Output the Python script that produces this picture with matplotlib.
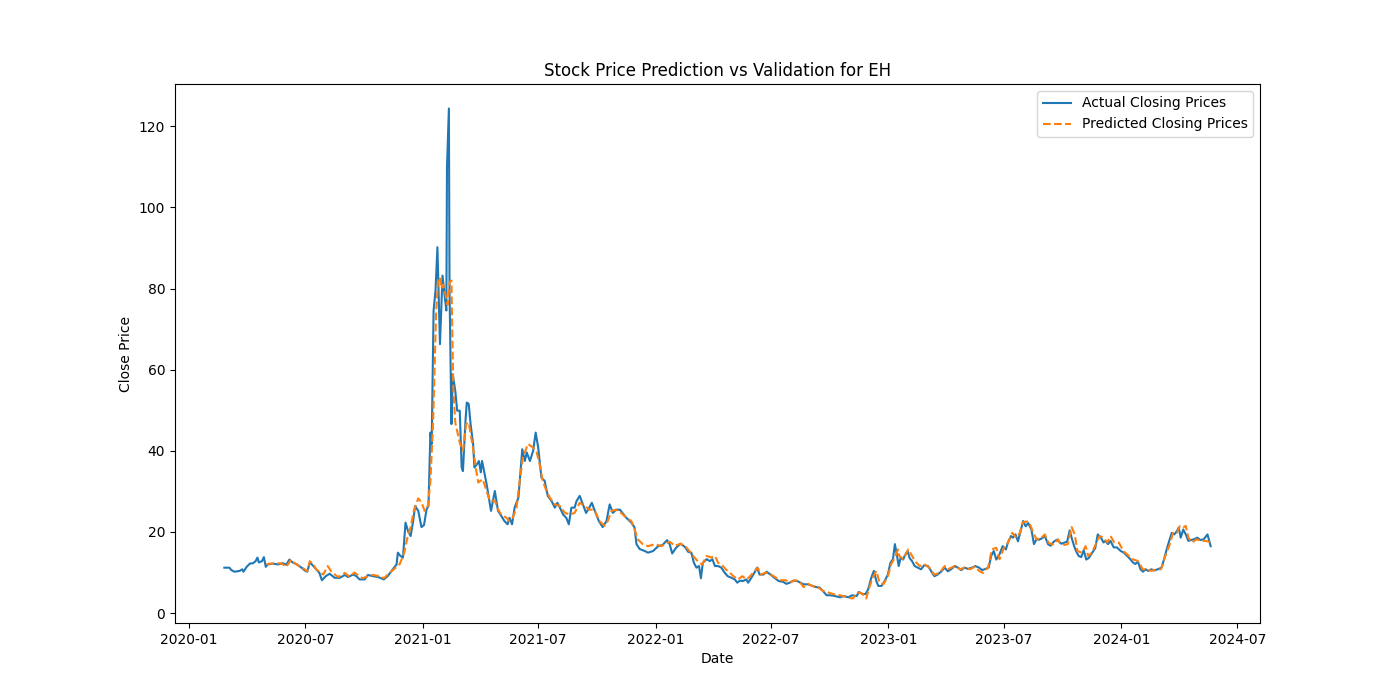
import matplotlib
matplotlib.use("Agg")
import matplotlib.pyplot as plt
import pandas as pd

actual_dates = [
"2020-02-25","2020-03-04","2020-03-07","2020-03-12","2020-03-20","2020-03-24","2020-03-26","2020-03-31",
"2020-04-05","2020-04-10","2020-04-14","2020-04-17","2020-04-19","2020-04-24","2020-04-27","2020-04-30",
"2020-05-03","2020-05-11","2020-05-19","2020-05-27","2020-06-01","2020-06-06","2020-06-11","2020-06-18",
"2020-06-25","2020-06-30","2020-07-04","2020-07-08","2020-07-13","2020-07-18","2020-07-23","2020-07-27",
"2020-08-02","2020-08-08","2020-08-16","2020-08-24","2020-09-01","2020-09-06","2020-09-14","2020-09-19",
"2020-09-24","2020-10-02","2020-10-07","2020-10-15","2020-10-23","2020-11-01","2020-11-07","2020-11-15",
"2020-11-21","2020-11-23","2020-11-27","2020-12-01","2020-12-05","2020-12-09","2020-12-13","2020-12-17",
"2020-12-20","2020-12-25","2020-12-30","2021-01-03","2021-01-07","2021-01-10","2021-01-13","2021-01-15",
"2021-01-18","2021-01-21","2021-01-24","2021-01-28","2021-02-01","2021-02-04","2021-02-07","2021-02-08",
"2021-02-11","2021-02-12","2021-02-15","2021-02-17","2021-02-21","2021-02-24","2021-02-28","2021-03-03",
"2021-03-05","2021-03-09","2021-03-11","2021-03-14","2021-03-17","2021-03-21","2021-03-23","2021-03-27",
"2021-03-30","2021-04-02","2021-04-04","2021-04-11","2021-04-18","2021-04-24","2021-04-29","2021-05-04",
"2021-05-09","2021-05-14","2021-05-17","2021-05-21","2021-05-25","2021-05-31","2021-06-06","2021-06-10",
"2021-06-13","2021-06-18","2021-06-23","2021-06-27","2021-07-01","2021-07-06","2021-07-11","2021-07-16",
"2021-07-22","2021-07-27","2021-07-31","2021-08-04","2021-08-09","2021-08-14","2021-08-18","2021-08-22",
"2021-08-27","2021-08-30","2021-09-04","2021-09-09","2021-09-14","2021-09-19","2021-09-23","2021-09-27",
"2021-10-04","2021-10-10","2021-10-16","2021-10-21","2021-10-26","2021-10-31","2021-11-06","2021-11-11",
"2021-11-16","2021-11-24","2021-11-29","2021-12-02","2021-12-07","2021-12-15","2021-12-20","2021-12-28",
"2022-01-05","2022-01-12","2022-01-19","2022-01-23","2022-01-27","2022-02-02","2022-02-09","2022-02-16",
"2022-02-21","2022-02-26","2022-03-02","2022-03-06","2022-03-10","2022-03-13","2022-03-16","2022-03-22",
"2022-03-27","2022-03-31","2022-04-04","2022-04-09","2022-04-14","2022-04-19","2022-04-24","2022-04-30",
"2022-05-05","2022-05-09","2022-05-13","2022-05-18","2022-05-23","2022-05-26","2022-05-31","2022-06-05",
"2022-06-09","2022-06-13","2022-06-19","2022-06-24","2022-06-30","2022-07-07","2022-07-13","2022-07-20",
"2022-07-25","2022-07-30","2022-08-05","2022-08-11","2022-08-16","2022-08-21","2022-08-28","2022-09-04",
"2022-09-10","2022-09-15","2022-09-20","2022-09-26","2022-10-02","2022-10-09","2022-10-17","2022-10-23",
"2022-10-30","2022-11-05","2022-11-12","2022-11-16","2022-11-21","2022-11-26","2022-11-30","2022-12-05",
"2022-12-09","2022-12-13","2022-12-16","2022-12-21","2022-12-26","2022-12-31","2023-01-04","2023-01-08",
"2023-01-11","2023-01-14","2023-01-17","2023-01-20","2023-01-24","2023-01-26","2023-01-31","2023-02-03",
"2023-02-07","2023-02-11","2023-02-16","2023-02-21","2023-02-26","2023-03-04","2023-03-09","2023-03-14",
"2023-03-19","2023-03-25","2023-03-30","2023-04-04","2023-04-09","2023-04-15","2023-04-20","2023-04-25",
"2023-04-30","2023-05-06","2023-05-12","2023-05-17","2023-05-23","2023-05-28","2023-06-02","2023-06-07",
"2023-06-11","2023-06-15","2023-06-19","2023-06-24","2023-06-29","2023-07-04","2023-07-07","2023-07-12",
"2023-07-15","2023-07-19","2023-07-23","2023-07-27","2023-07-31","2023-08-04","2023-08-08","2023-08-13",
"2023-08-17","2023-08-21","2023-08-25","2023-08-29","2023-09-03","2023-09-08","2023-09-12","2023-09-17",
"2023-09-22","2023-09-29","2023-10-04","2023-10-08","2023-10-12","2023-10-15","2023-10-19","2023-10-22",
"2023-10-26","2023-10-30","2023-11-03","2023-11-07","2023-11-11","2023-11-16","2023-11-21","2023-11-25",
"2023-11-30","2023-12-04","2023-12-07","2023-12-11","2023-12-15","2023-12-20","2023-12-25","2023-12-31",
"2024-01-05","2024-01-10","2024-01-15","2024-01-19","2024-01-23","2024-01-27","2024-01-31","2024-02-04",
"2024-02-08","2024-02-12","2024-02-17","2024-02-22","2024-02-27","2024-03-04","2024-03-08","2024-03-12",
"2024-03-16","2024-03-20","2024-03-24","2024-03-28","2024-03-31","2024-04-03","2024-04-07","2024-04-11",
"2024-04-15","2024-04-19","2024-04-24","2024-04-29","2024-05-04","2024-05-09","2024-05-15","2024-05-20",
]
actual_close = [
11.2,11.2,10.6,10.2,10.4,10.8,10.2,11.4,
12.2,12.3,12.8,13.7,12.5,12.8,13.8,11.4,
12.0,12.2,12.0,12.3,11.9,13.2,12.5,12.0,
11.2,10.5,10.2,12.5,11.7,10.8,9.9,8.1,
9.1,9.7,8.7,8.7,9.4,8.9,9.5,9.1,
8.3,8.3,9.4,9.1,8.9,8.3,9.1,10.8,
12.0,14.9,14.1,13.7,22.3,20.2,19.0,22.7,
26.4,25.2,21.2,21.7,25.6,26.4,44.5,41.7,
74.6,79.5,90.2,66.3,83.2,78.7,74.6,110.0,
124.4,79.5,46.6,58.9,54.8,49.9,49.9,35.9,
35.0,47.4,51.9,51.6,46.6,41.6,35.9,36.7,
37.5,34.7,37.5,31.9,25.2,30.1,25.2,24.0,
22.7,21.9,23.5,21.9,26.0,28.5,40.4,37.5,
39.6,37.5,40.0,44.5,40.8,33.4,32.6,28.9,
27.6,26.0,27.2,26.0,24.3,23.5,21.9,26.0,
26.0,27.6,28.9,26.8,24.7,26.0,27.2,25.5,
22.7,21.2,22.7,26.8,24.7,25.5,25.5,24.5,
23.5,22.3,21.1,17.0,15.8,15.3,14.9,15.3,
16.5,16.8,18.0,17.0,14.7,16.1,17.1,16.3,
15.1,14.9,12.4,11.2,11.6,8.6,12.4,13.3,
12.8,13.3,11.6,11.6,11.2,10.0,9.1,8.7,
8.3,7.5,8.0,7.9,8.3,7.5,8.7,10.0,
11.2,9.5,9.5,10.2,9.5,8.6,7.9,7.7,
7.2,7.5,8.0,7.9,7.5,7.1,7.1,6.7,
6.4,6.3,5.5,4.4,4.4,4.2,3.9,4.2,
3.9,4.4,4.2,5.2,4.7,4.7,5.8,8.7,
10.4,7.9,6.7,6.7,7.9,9.5,12.4,13.3,
17.0,14.5,11.6,13.6,13.2,14.0,15.3,13.6,
12.8,11.6,11.2,10.8,11.8,11.6,10.3,9.1,
9.5,10.3,11.2,10.3,10.8,11.6,11.2,10.6,
11.2,10.9,11.2,11.6,11.2,10.6,10.9,11.2,
14.1,15.3,13.2,14.5,16.5,15.7,17.3,19.0,
18.6,19.4,17.7,20.2,22.7,21.4,22.2,20.6,
17.0,18.2,18.1,18.4,19.0,17.0,16.6,17.6,
18.1,17.1,17.4,17.6,20.4,18.6,16.5,15.3,
14.1,13.8,15.5,13.2,13.6,14.8,16.0,19.4,
18.6,17.4,17.8,17.0,17.8,16.2,16.2,15.3,
14.9,14.1,13.3,12.5,12.1,12.7,10.8,10.2,
10.8,10.4,10.8,10.5,10.8,11.2,13.3,15.7,
17.8,19.8,19.4,20.2,21.1,18.6,20.6,19.4,
17.8,18.0,18.2,18.6,18.0,18.2,19.4,16.5,
]

pred_dates = [
"2020-05-01","2020-05-06","2020-05-14","2020-05-22","2020-05-27","2020-06-01","2020-06-06","2020-06-09",
"2020-06-14","2020-06-22","2020-06-30","2020-07-04","2020-07-08","2020-07-13","2020-07-18","2020-07-23",
"2020-07-29","2020-08-05","2020-08-11","2020-08-21","2020-09-01","2020-09-08","2020-09-16","2020-09-21",
"2020-09-29","2020-10-07","2020-10-15","2020-10-25","2020-11-01","2020-11-10","2020-11-18","2020-11-26",
"2020-12-03","2020-12-08","2020-12-13","2020-12-18","2020-12-25","2020-12-30","2021-01-04","2021-01-09",
"2021-01-13","2021-01-15","2021-01-17","2021-01-20","2021-01-22","2021-01-25","2021-01-28","2021-01-30",
"2021-02-02","2021-02-05","2021-02-09","2021-02-12","2021-02-15","2021-02-16","2021-02-18","2021-02-21",
"2021-02-28","2021-03-05","2021-03-10","2021-03-14","2021-03-21","2021-03-26","2021-03-29","2021-04-05",
"2021-04-16","2021-04-24","2021-04-29","2021-05-04","2021-05-12","2021-05-17","2021-05-22","2021-05-28",
"2021-06-02","2021-06-07","2021-06-15","2021-06-23","2021-06-28","2021-07-03","2021-07-08","2021-07-14",
"2021-07-19","2021-07-27","2021-08-04","2021-08-12","2021-08-20","2021-08-27","2021-09-04","2021-09-12",
"2021-09-19","2021-09-27","2021-10-05","2021-10-13","2021-10-18","2021-10-24","2021-10-31","2021-11-08",
"2021-11-16","2021-11-24","2021-11-29","2021-12-04","2021-12-12","2021-12-20","2021-12-31","2022-01-10",
"2022-01-15","2022-01-23","2022-01-31","2022-02-09","2022-02-16","2022-02-23","2022-03-03","2022-03-10",
"2022-03-15","2022-03-22","2022-03-29","2022-04-04","2022-04-09","2022-04-14","2022-04-21","2022-04-27",
"2022-05-03","2022-05-10","2022-05-17","2022-05-24","2022-05-29","2022-06-05","2022-06-10","2022-06-15",
"2022-06-23","2022-07-01","2022-07-09","2022-07-17","2022-07-24","2022-07-31","2022-08-07","2022-08-14",
"2022-08-21","2022-08-28","2022-09-05","2022-09-13","2022-09-20","2022-09-28","2022-10-06","2022-10-14",
"2022-10-22","2022-10-30","2022-11-06","2022-11-14","2022-11-21","2022-11-27","2022-12-02","2022-12-07",
"2022-12-13","2022-12-18","2022-12-24","2022-12-31","2023-01-05","2023-01-11","2023-01-16","2023-01-18",
"2023-01-24","2023-02-01","2023-02-07","2023-02-11","2023-02-19","2023-02-26","2023-03-06","2023-03-14",
"2023-03-22","2023-03-30","2023-04-04","2023-04-15","2023-04-23","2023-04-30","2023-05-09","2023-05-16",
"2023-05-24","2023-05-29","2023-06-06","2023-06-12","2023-06-19","2023-06-24","2023-07-02","2023-07-07",
"2023-07-14","2023-07-20","2023-07-26","2023-07-31","2023-08-06","2023-08-11","2023-08-16","2023-08-21",
"2023-08-29","2023-09-03","2023-09-09","2023-09-16","2023-09-24","2023-09-26","2023-10-04","2023-10-09",
"2023-10-15","2023-10-20","2023-10-24","2023-10-31","2023-11-06","2023-11-10","2023-11-16","2023-11-23",
"2023-11-28","2023-12-04","2023-12-10","2023-12-15","2023-12-21","2023-12-28","2024-01-04","2024-01-10",
"2024-01-18","2024-01-26","2024-01-30","2024-02-03","2024-02-10","2024-02-17","2024-02-25","2024-03-03",
"2024-03-09","2024-03-17","2024-03-22","2024-03-28","2024-04-02","2024-04-07","2024-04-11","2024-04-15",
"2024-04-21","2024-04-28","2024-05-06","2024-05-13","2024-05-20",
]
pred_close = [
12.0,12.2,12.2,12.3,12.0,11.4,12.5,13.2,
12.3,11.5,10.8,10.3,12.8,12.1,10.8,10.2,
9.5,11.6,10.2,8.9,9.9,9.0,10.0,9.4,
8.6,9.1,9.4,9.1,8.6,9.9,11.0,12.1,
14.9,18.6,21.2,25.2,28.3,27.3,25.2,26.4,
32.5,39.2,46.0,63.0,74.0,82.0,82.8,80.0,
81.0,79.0,76.0,81.5,82.0,72.0,55.0,47.0,
42.0,40.0,46.6,47.0,40.5,35.0,32.2,33.0,
27.7,27.7,25.6,24.3,23.5,22.7,23.5,26.0,
32.6,38.4,41.7,40.8,40.0,36.8,32.6,30.1,
28.5,26.8,26.4,24.7,24.3,24.7,27.2,26.4,
25.5,25.5,22.7,21.5,22.7,25.2,25.5,24.7,
23.5,22.7,20.7,18.2,17.0,16.5,17.0,16.5,
17.0,17.6,16.6,17.1,16.6,15.3,13.7,12.4,
12.0,14.1,13.7,14.1,12.4,12.0,10.8,10.0,
9.1,8.3,9.1,8.3,9.1,10.3,11.2,9.5,
10.0,9.5,8.7,8.1,8.1,7.5,8.1,7.9,
6.4,7.2,6.6,6.3,5.5,5.1,4.7,4.5,
4.2,3.8,3.6,5.1,4.8,3.6,6.3,8.7,
10.4,7.5,7.1,9.1,12.0,13.7,15.7,14.1,
13.3,15.7,14.1,12.9,11.6,12.1,11.2,9.5,
9.9,11.6,10.8,11.6,10.8,11.2,10.8,11.4,
10.3,9.9,11.2,15.7,16.1,13.3,16.5,17.3,
19.8,18.6,19.8,22.4,22.6,21.8,19.8,18.2,
18.6,19.4,17.3,16.9,18.2,17.4,16.8,17.0,
21.2,19.4,15.3,14.9,16.5,14.1,14.9,17.4,
19.0,18.6,17.4,19.0,17.4,17.4,15.3,14.5,
13.3,12.9,12.3,10.8,10.8,10.4,10.8,10.8,
13.7,17.0,19.8,19.8,21.5,21.1,21.5,18.6,
17.4,18.2,17.8,17.8,17.4,
]

actual = pd.Series(actual_close, index=pd.to_datetime(actual_dates))
pred = pd.Series(pred_close, index=pd.to_datetime(pred_dates))

fig, ax = plt.subplots(figsize=(14, 7), dpi=100)
ax.plot(actual.index, actual.values, label="Actual Closing Prices", color="#1f77b4")
ax.plot(pred.index, pred.values, label="Predicted Closing Prices", color="#ff7f0e", linestyle="--")
ax.set_title("Stock Price Prediction vs Validation for EH")
ax.set_xlabel("Date")
ax.set_ylabel("Close Price")
ax.legend(loc="upper right")
fig.savefig("out.png")
